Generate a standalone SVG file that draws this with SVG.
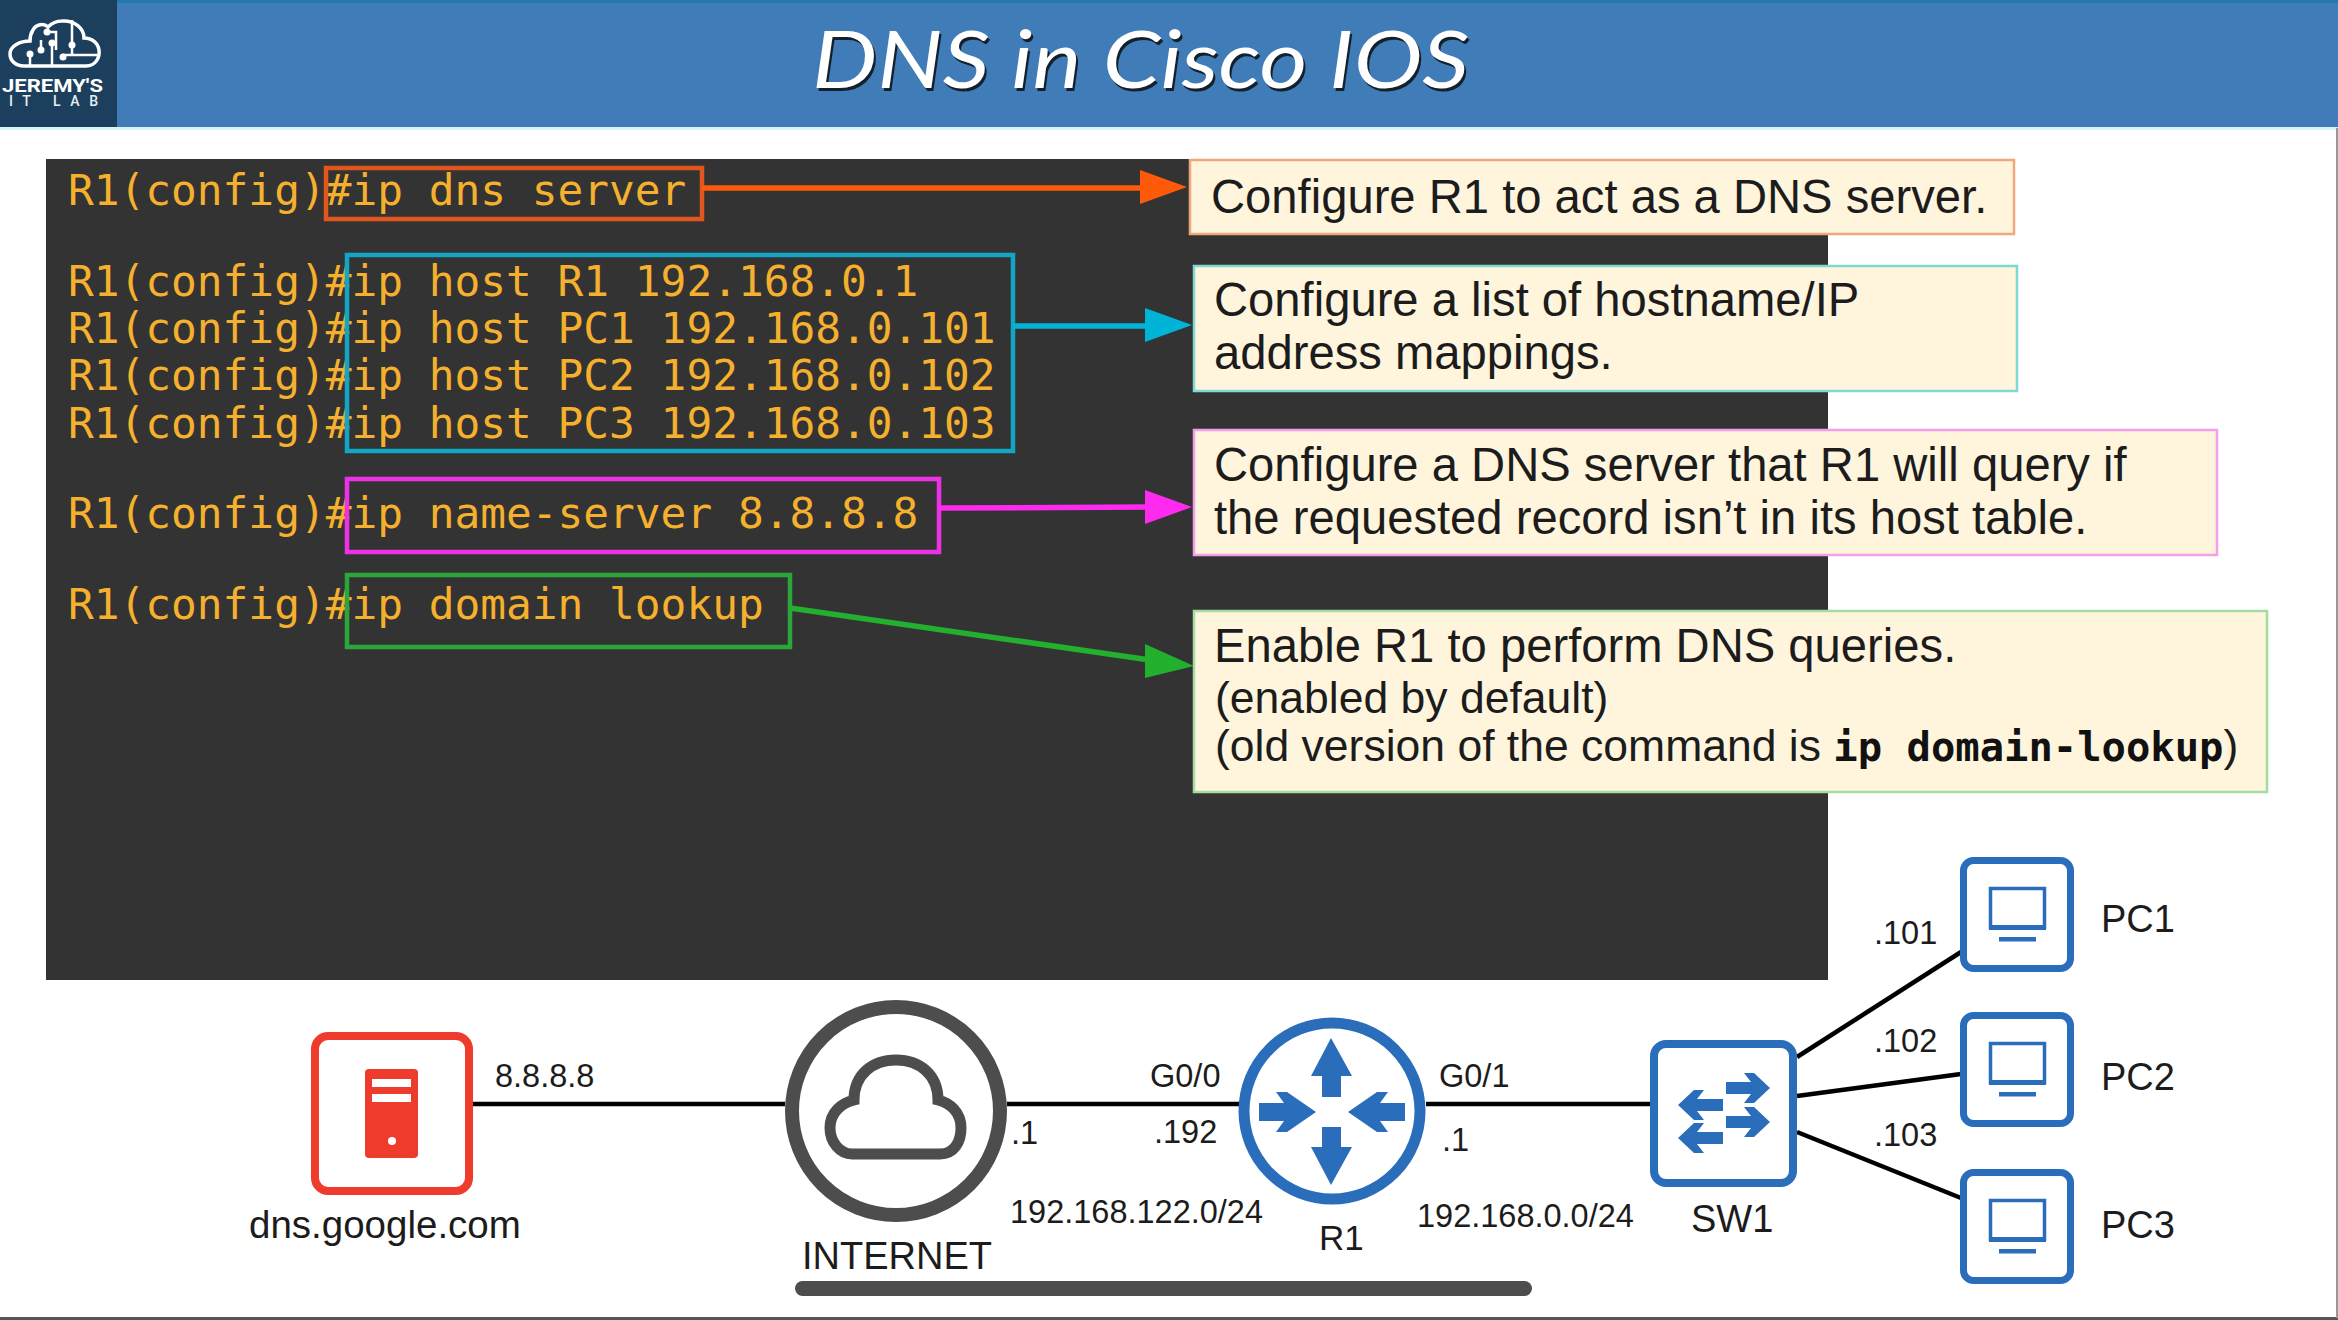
<svg xmlns="http://www.w3.org/2000/svg" width="2338" height="1320" viewBox="0 0 2338 1320">
<defs>
<style>
.sans{font-family:"Liberation Sans",Arial,sans-serif;fill:#1c1c1c}
.net{font-size:32.5px}
.big{font-size:38px}
.call1{font-size:47.200px}
.call2{font-size:44.500px}
.term{font-family:"DejaVu Sans Mono","Liberation Mono",monospace;font-size:42.800px;fill:#f5b02e}
.mono{font-family:"DejaVu Sans Mono","Liberation Mono",monospace;font-weight:700;font-size:40.500px;fill:#111}
.title{font-family:"Lato","Open Sans",sans-serif;font-style:italic;font-size:80px}
.hl{fill:none;stroke-width:4.5}
.callout{fill:#fff5dc;stroke-width:2.5}
.wire{stroke:#000;stroke-width:4.5;fill:none}
.arrow{stroke-width:5.5;fill:none}
.pcbox{fill:#fff;stroke:#2a6ebb;stroke-width:7}
.blue{fill:#2a6ebb}
.blueline{fill:none;stroke:#2a6ebb}
</style>
<g id="pc-icon">
<rect class="pcbox" x="1963.500" y="860.500" width="107" height="108" rx="10"/>
<path class="blueline" stroke-width="3.500" d="M1990.500 929V888.500H2044.500V929"/>
<rect class="blue" x="1989" y="925" width="57" height="5"/>
<rect class="blue" x="1999" y="937" width="37" height="4.500"/>
</g>
</defs>

<rect width="2338" height="1320" fill="#fff"/>

<g id="header">
<rect width="2338" height="128" fill="#3f7cb8"/>
<rect width="2338" height="3" fill="#1f7aa8"/>
<rect y="127" width="2338" height="3" fill="#d8f4f6"/>
<text class="title" x="814" y="90.500" textLength="657" lengthAdjust="spacingAndGlyphs" fill="#14202c">DNS in Cisco IOS</text>
<text class="title" x="812" y="88" textLength="657" lengthAdjust="spacingAndGlyphs" fill="#fff">DNS in Cisco IOS</text>
</g>

<g id="logo">
<rect width="117" height="127" fill="#1b3f5c"/>
<path d="M24 66H86C96 66 100 57 99 50C98 43 92 38 84 38C84 28 74 20 62 21C56 21 52 23 48 27C44 23 36 24 33 30C31 33 30 37 30 41C20 41 10 46 10 54C10 61 16 66 24 66Z" fill="none" stroke="#fff" stroke-width="3.500"/>
<path d="M47 32H56V50M41 50V40M52 45V66M72 20V55H98M62 55H72M30 66V54" fill="none" stroke="#fff" stroke-width="2.500"/>
<circle cx="47" cy="32" r="3.500" fill="#fff"/><circle cx="41" cy="50" r="3.500" fill="#fff"/><circle cx="52" cy="43" r="3.500" fill="#fff"/><circle cx="72" cy="45" r="3.500" fill="#fff"/><circle cx="63" cy="57" r="3.500" fill="#fff"/><circle cx="30" cy="54" r="3.500" fill="#fff"/>
<text x="2" y="92" textLength="101" lengthAdjust="spacingAndGlyphs" font-family="Roboto,&quot;Liberation Sans&quot;,sans-serif" font-weight="700" font-size="18" fill="#fff">JEREMY'S</text>
<text x="9" y="106" textLength="89" font-family="Roboto,&quot;Liberation Sans&quot;,sans-serif" font-weight="500" font-size="14" fill="#e8eef2">IT LAB</text>
</g>

<g id="terminal">
<rect x="46" y="159" width="1782" height="821" fill="#333"/>
<text class="term" x="68" y="204.500">R1(config)#ip dns server</text>
<text class="term" x="68" y="296">R1(config)#ip host R1 192.168.0.1</text>
<text class="term" x="68" y="343">R1(config)#ip host PC1 192.168.0.101</text>
<text class="term" x="68" y="390">R1(config)#ip host PC2 192.168.0.102</text>
<text class="term" x="68" y="438">R1(config)#ip host PC3 192.168.0.103</text>
<text class="term" x="68" y="528">R1(config)#ip name-server 8.8.8.8</text>
<text class="term" x="68" y="619">R1(config)#ip domain lookup</text>
</g>

<g id="highlights">
<rect class="hl" x="326" y="168" width="376" height="51" stroke="#e0561c"/>
<rect class="hl" x="347" y="255" width="666" height="196" stroke="#12a5c4"/>
<rect class="hl" x="347" y="479" width="592" height="73" stroke="#ee30e6"/>
<rect class="hl" x="347" y="575" width="443" height="72" stroke="#2aa63a"/>
</g>

<g id="connectors">
<path class="arrow" d="M702 188H1145" stroke="#ff5a0a"/>
<path d="M1140 170L1187 187L1140 204Z" fill="#ff5a0a"/>
<path class="arrow" d="M1013 326H1150" stroke="#00b4d8"/>
<path d="M1145 308L1192 325L1145 342Z" fill="#00b4d8"/>
<path class="arrow" d="M939 508L1150 507" stroke="#ff2aef"/>
<path d="M1145 490L1192 507L1145 524Z" fill="#ff2aef"/>
<path class="arrow" d="M790 608L1150 660" stroke="#22b02e"/>
<path d="M1145 644L1194 666L1145 678Z" fill="#22b02e"/>
<path class="wire" d="M473 1104H785"/>
<path class="wire" d="M1007 1104H1240"/>
<path class="wire" d="M1426 1104H1651"/>
<path class="wire" d="M1797 1057L1961 952"/>
<path class="wire" d="M1797 1096L1961 1074"/>
<path class="wire" d="M1797 1132L1961 1198"/>
</g>

<g id="callout-1">
<rect class="callout" x="1190" y="160" width="824" height="74" stroke="#f2a67e"/>
<text class="sans call1" x="1211" y="213">Configure R1 to act as a DNS server.</text>
</g>
<g id="callout-2">
<rect class="callout" x="1194" y="266" width="823" height="125" stroke="#7fd8d2"/>
<text class="sans call1" x="1214" y="316">Configure a list of hostname/IP</text>
<text class="sans call1" x="1214" y="369">address mappings.</text>
</g>
<g id="callout-3">
<rect class="callout" x="1194" y="430" width="1023" height="125" stroke="#f2a0ec"/>
<text class="sans call1" x="1214" y="481">Configure a DNS server that R1 will query if</text>
<text class="sans call1" x="1214" y="534">the requested record isn’t in its host table.</text>
</g>
<g id="callout-4">
<rect class="callout" x="1194" y="611" width="1073" height="181" stroke="#a4dca2"/>
<text class="sans call1" x="1214" y="662">Enable R1 to perform DNS queries.</text>
<text class="sans call2" x="1215" y="713">(enabled by default)</text>
<text class="sans call2" x="1215" y="761">(old version of the command is <tspan class="mono">ip domain-lookup</tspan>)</text>
</g>

<g id="dns-server">
<rect x="315" y="1036" width="154" height="155" rx="13" fill="#fff" stroke="#ee3b2b" stroke-width="8"/>
<rect x="365" y="1069" width="53" height="89" rx="4" fill="#ee3b2b"/>
<rect x="372" y="1079" width="39" height="8" fill="#fff"/>
<rect x="372" y="1094" width="39" height="8" fill="#fff"/>
<circle cx="392" cy="1141" r="4" fill="#fff"/>
<text class="sans net" x="495" y="1087">8.8.8.8</text>
<text class="sans" font-size="38.500" x="249" y="1238">dns.google.com</text>
</g>

<g id="internet">
<circle cx="896" cy="1111" r="104" fill="#fff" stroke="#4d4d4d" stroke-width="14"/>
<path d="M852 1154H940C954 1154 961 1142 961 1128C961 1112 950 1103 938 1100C938 1075 920 1060 896 1060C872 1060 854 1075 854 1100C842 1103 830 1112 830 1128C830 1142 840 1154 852 1154Z" fill="none" stroke="#4d4d4d" stroke-width="11"/>
<text class="sans big" x="802" y="1269">INTERNET</text>
<text class="sans net" x="1011" y="1144">.1</text>
<text class="sans net" x="1010" y="1223">192.168.122.0/24</text>
</g>

<g id="r1">
<circle cx="1332" cy="1111" r="88" fill="#fff" stroke="#2a6ebb" stroke-width="11"/>
<path class="blue" d="M1331 1038L1352 1076H1341V1097H1322V1076H1311Z"/>
<path class="blue" d="M1331 1185L1352 1147H1341V1127H1322V1147H1311Z"/>
<path class="blue" d="M1316 1112L1287 1092H1276L1284 1103H1259V1121H1284L1276 1132H1287Z"/>
<path class="blue" d="M1348 1112L1377 1092H1388L1380 1103H1405V1121H1380L1388 1132H1377Z"/>
<text class="sans net" x="1150" y="1087">G0/0</text>
<text class="sans net" x="1154" y="1143">.192</text>
<text class="sans net" x="1439" y="1087">G0/1</text>
<text class="sans net" x="1442" y="1151">.1</text>
<text class="sans net" x="1417" y="1227">192.168.0.0/24</text>
<text class="sans" font-size="35" x="1319" y="1250">R1</text>
</g>

<g id="sw1">
<rect x="1654" y="1044" width="139" height="139" rx="12" fill="#fff" stroke="#2a6ebb" stroke-width="8"/>
<path class="blue" d="M1770 1088L1754 1073H1744L1751 1082H1726V1094H1751L1744 1103H1754Z"/>
<path class="blue" d="M1678 1105L1694 1090H1704L1697 1099H1723V1111H1697L1704 1120H1694Z"/>
<path class="blue" d="M1770 1122L1754 1107H1744L1751 1116H1726V1128H1751L1744 1137H1754Z"/>
<path class="blue" d="M1678 1138L1694 1123H1704L1697 1132H1723V1144H1697L1704 1153H1694Z"/>
<text class="sans big" x="1691" y="1232">SW1</text>
</g>

<g id="pc1"><use href="#pc-icon"/>
<text class="sans net" x="1874" y="944">.101</text>
<text class="sans big" x="2101" y="932">PC1</text></g>
<g id="pc2"><use href="#pc-icon" y="155"/>
<text class="sans net" x="1874" y="1052">.102</text>
<text class="sans big" x="2101" y="1090">PC2</text></g>
<g id="pc3"><use href="#pc-icon" y="312"/>
<text class="sans net" x="1874" y="1146">.103</text>
<text class="sans big" x="2101" y="1238">PC3</text></g>

<g id="chrome">
<rect x="795" y="1281" width="737" height="15" rx="7.500" fill="#4d4d4d"/>
<rect y="1317" width="2338" height="3" fill="#555"/>
<rect x="2336" y="128" width="2" height="1190" fill="#999"/>
</g>
</svg>
